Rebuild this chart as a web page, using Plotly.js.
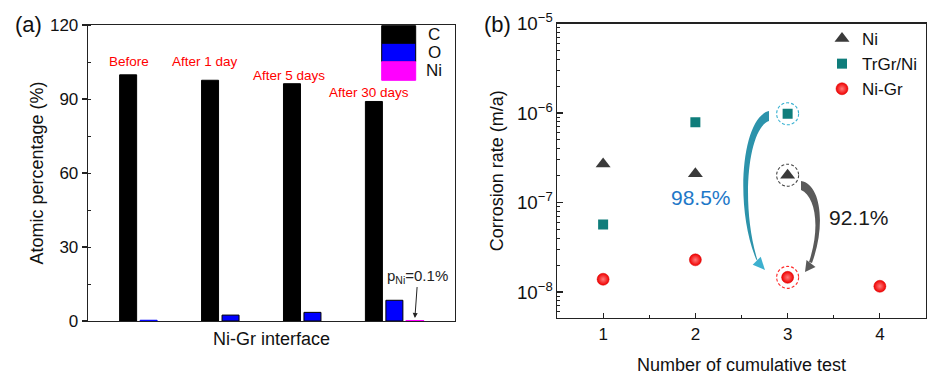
<!DOCTYPE html>
<html>
<head>
<meta charset="utf-8">
<script src="https://cdn.plot.ly/plotly-3.0.1.min.js"></script>
<style>html,body{margin:0;padding:0;background:#fff;}#chart{width:952px;height:377px;}</style>
</head>
<body>
<div id="chart"></div>
<script>
// ---------- data: panel (a) ----------
const categories = ['Before', 'After 1 day', 'After 5 days', 'After 30 days'];
const elements = ['C', 'O', 'Ni'];
const pctC = [99.8, 97.6, 96.2, 89.0];
const pctO = [0.3, 2.4, 3.5, 8.4];
const pctNi = [0, 0, 0, 0.1];
const yTicksA = [0, 30, 60, 90, 120];

// ---------- data: panel (b) ----------
const seriesNames = ['Ni', 'TrGr/Ni', 'Ni-Gr'];
const testNi = [1, 2, 3];
const rateNi = [2.7e-7, 2.1e-7, 2.02e-7];
const testTrGr = [1, 2, 3];
const rateTrGr = [5.7e-8, 7.9e-7, 9.8e-7];
const testNiGr = [1, 2, 3, 4];
const rateNiGr = [1.39e-8, 2.29e-8, 1.46e-8, 1.16e-8];
const reductionLabels = ['98.5%', '92.1%'];

// ---------- helpers ----------
const W = 952, H = 377;
const px = x => x / W;
const py = y => 1 - y / H;
const path = pts => pts.map(p => (p[0] + ' ' + px(p[1]).toFixed(5) + ',' + py(p[2]).toFixed(5))).join(' ');
const FONT = 'Liberation Sans, Arial, sans-serif';
const barColors = ['#000000', '#0000ff', '#ff00ff'];
const barVals = [pctC, pctO, pctNi];
const barLineColors = [
  '#000000',
  pctO.map(v => (v < 1 ? '#0000ff' : '#000000')),
  '#ff00ff'
];
const barLineWidths = [1, 1, pctNi.map(v => (v > 0 ? 1.5 : 0))];

const traces = [];
elements.forEach((el, i) => {
  traces.push({
    type: 'bar', x: categories, y: barVals[i], name: el,
    xaxis: 'x', yaxis: 'y', showlegend: false,
    marker: {color: barColors[i], line: {color: barLineColors[i], width: barLineWidths[i]}},
    hoverinfo: 'skip'
  });
});

traces.push({
  type: 'scatter', mode: 'markers', x: testNi, y: rateNi, name: seriesNames[0],
  xaxis: 'x2', yaxis: 'y2',
  marker: {symbol: 'triangle-up', size: 13, color: '#3a3a3a'}
});
traces.push({
  type: 'scatter', mode: 'markers', x: testTrGr, y: rateTrGr, name: seriesNames[1],
  xaxis: 'x2', yaxis: 'y2',
  marker: {symbol: 'square', size: 10, color: '#0f7d7b'}
});
traces.push({
  type: 'scatter', mode: 'markers', x: testNiGr, y: rateNiGr, name: seriesNames[2],
  xaxis: 'x2', yaxis: 'y2',
  marker: {symbol: 'circle', size: 12, color: '#f00000', line: {color: '#d80000', width: 0.5},
           gradient: {type: 'radial', color: '#ff7a7a'}}
});

// ---------- annotations ----------
const annY = [105, 105, 99.7, 92.8];
const annShift = [-20, -26, -23, -25];
const annotations = [];
categories.forEach((c, i) => {
  annotations.push({
    x: i, y: annY[i], xref: 'x', yref: 'y', xshift: annShift[i], text: c, showarrow: false,
    font: {family: FONT, size: 13.5, color: '#ff0000'}, xanchor: 'center', yanchor: 'middle'
  });
});
// legend (a) labels
const legY = [34.5, 52.5, 71];
elements.forEach((el, i) => {
  annotations.push({
    x: px(434), y: py(legY[i]), xref: 'paper', yref: 'paper', text: el, showarrow: false,
    font: {family: FONT, size: 17, color: '#111'}, xanchor: 'center', yanchor: 'middle'
  });
});
// pNi annotation
annotations.push({
  x: 3, y: 1.2, xref: 'x', yref: 'y', xshift: 20.5,
  text: 'p<sub>Ni</sub>=0.1%', showarrow: true, ax: 3, ay: -42,
  arrowhead: 2, arrowsize: 1, arrowwidth: 1, arrowcolor: '#222',
  font: {family: FONT, size: 15, color: '#222'}
});
// panel labels
annotations.push({x: px(28), y: py(25), xref: 'paper', yref: 'paper', text: '(a)', showarrow: false,
  font: {family: FONT, size: 22, color: '#111'}, xanchor: 'center', yanchor: 'middle'});
annotations.push({x: px(497), y: py(25), xref: 'paper', yref: 'paper', text: '(b)', showarrow: false,
  font: {family: FONT, size: 22, color: '#111'}, xanchor: 'center', yanchor: 'middle'});
// reduction labels
annotations.push({x: px(701), y: py(198), xref: 'paper', yref: 'paper', text: reductionLabels[0], showarrow: false,
  font: {family: FONT, size: 21, color: '#1e78c8'}, xanchor: 'center', yanchor: 'middle'});
annotations.push({x: px(859), y: py(217), xref: 'paper', yref: 'paper', text: reductionLabels[1], showarrow: false,
  font: {family: FONT, size: 21, color: '#1a1a1a'}, xanchor: 'center', yanchor: 'middle'});

// ---------- shapes ----------
const shapes = [];
// legend (a) boxes
const legTop = [25.7, 43.3, 61.7], legBot = [43.3, 61.7, 80.3];
elements.forEach((el, i) => {
  shapes.push({type: 'rect', xref: 'paper', yref: 'paper', x0: px(381.7), x1: px(415.7), y0: py(legBot[i]), y1: py(legTop[i]),
    fillcolor: barColors[i], line: {color: i < 2 ? '#000' : barColors[i], width: 1}});
});
// dashed circles around test 3 (radius ~11 px; x: 92.3 px per unit, y: 89.5 px per decade)
const rX = 11 / 92.3, rY = Math.pow(10, 11 / 89.5);
const circ = [[rateTrGr[2], '#3ab2d2'], [rateNi[2], '#444444'], [rateNiGr[2], '#ff2a2a']];
circ.forEach(c => {
  shapes.push({type: 'circle', xref: 'x2', yref: 'y2',
    x0: 3 - rX, x1: 3 + rX, y0: c[0] / rY, y1: c[0] * rY,
    line: {color: c[1], width: 1.1, dash: '3px,2px'}, fillcolor: 'rgba(0,0,0,0)'});
});
// curved arrows (decoration)
shapes.push({type: 'path', xref: 'paper', yref: 'paper', line: {width: 0}, fillcolor: '#2c93ab',
  path: path([['M', 769, 111], ['C', 742, 117], ['', 734, 205], ['', 756, 259], ['L', 758, 262],
              ['C', 740, 205], ['', 748, 128], ['', 769, 121]]) + ' Z'});
shapes.push({type: 'path', xref: 'paper', yref: 'paper', line: {width: 0}, fillcolor: '#3db0cf',
  path: path([['M', 765, 270], ['L', 760.7, 256.7], ['L', 752.7, 264.7]]) + ' Z'});
shapes.push({type: 'path', xref: 'paper', yref: 'paper', line: {width: 0}, fillcolor: '#5a5a5a',
  path: path([['M', 801, 181], ['C', 821, 184], ['', 826, 225], ['', 812, 263], ['L', 809, 262],
              ['C', 821, 226], ['', 815, 196], ['', 801, 190]]) + ' Z'});
shapes.push({type: 'path', xref: 'paper', yref: 'paper', line: {width: 0}, fillcolor: '#5a5a5a',
  path: path([['M', 805, 272], ['L', 815.5, 267], ['L', 806.5, 260]]) + ' Z'});

const axLine = {showline: true, linecolor: '#222', linewidth: 1.3, mirror: true, showgrid: false, zeroline: false};

const layout = {
  width: W, height: H,
  margin: {l: 0, r: 0, t: 0, b: 0},
  paper_bgcolor: '#ffffff', plot_bgcolor: '#ffffff',
  font: {family: FONT, color: '#111'},
  barmode: 'group', bargap: 0.25, bargroupgap: 0.17,
  xaxis: Object.assign({}, axLine, {
    domain: [px(88), px(455)], anchor: 'y', type: 'category', range: [-0.74, 3.74],
    showticklabels: false, ticks: '',
    title: {text: 'Ni-Gr interface', font: {family: FONT, size: 18, color: '#111'}, standoff: 11}
  }),
  yaxis: Object.assign({}, axLine, {
    domain: [py(321), py(25)], anchor: 'x', range: [0, 120], tickvals: yTicksA,
    ticks: 'outside', ticklen: 5, tickwidth: 1.2, tickcolor: '#222',
    tickfont: {family: FONT, size: 17, color: '#111'},
    minor: {ticks: 'inside', ticklen: 3, dtick: 15, tickcolor: '#222', tickwidth: 1},
    title: {text: 'Atomic percentage (%)', font: {family: FONT, size: 18, color: '#111'}, standoff: 1}
  }),
  xaxis2: Object.assign({}, axLine, {
    domain: [px(557), px(926)], anchor: 'y2', range: [0.5, 4.5], dtick: 1, tick0: 0,
    ticks: 'inside', ticklen: 5, tickwidth: 1.2, tickcolor: '#222',
    tickfont: {family: FONT, size: 17, color: '#111'},
    minor: {ticks: 'inside', ticklen: 3, dtick: 0.5, tickcolor: '#222', tickwidth: 1},
    title: {text: 'Number of cumulative test', font: {family: FONT, size: 18, color: '#111'}, standoff: 15}
  }),
  yaxis2: Object.assign({}, axLine, {
    domain: [py(318), py(23.5)], anchor: 'x2', type: 'log', range: [-8.29, -5], dtick: 1,
    exponentformat: 'power',
    ticks: 'inside', ticklen: 6, tickwidth: 1.2, tickcolor: '#222',
    tickfont: {family: FONT, size: 15, color: '#111'},
    minor: {ticks: 'inside', ticklen: 3, dtick: 'D1', tickcolor: '#222', tickwidth: 1},
    title: {text: 'Corrosion rate (m/a)', font: {family: FONT, size: 18, color: '#111'}, standoff: 8}
  }),
  showlegend: true,
  legend: {x: px(822), y: py(21), xanchor: 'left', yanchor: 'top', bgcolor: 'rgba(0,0,0,0)',
    font: {family: FONT, size: 17, color: '#111'}, borderwidth: 0},
  annotations: annotations,
  shapes: shapes
};

Plotly.newPlot('chart', traces, layout, {staticPlot: true, displayModeBar: false});
</script>
</body>
</html>
